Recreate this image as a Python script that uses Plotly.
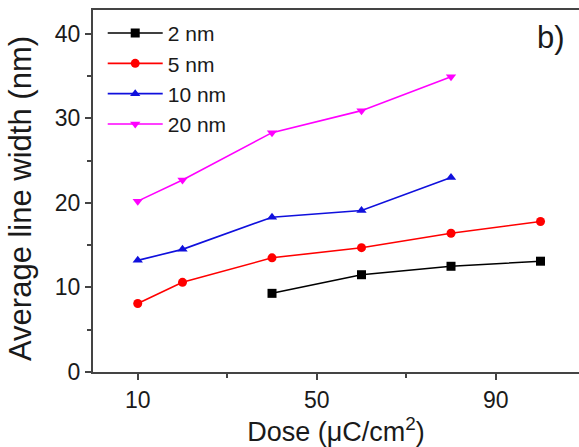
import plotly.graph_objects as go

w2_x = [40, 60, 80, 100]
w2_y = [9.3, 11.5, 12.5, 13.1]
w5_x = [10, 20, 40, 60, 80, 100]
w5_y = [8.1, 10.6, 13.5, 14.7, 16.4, 17.8]
w10_x = [10, 20, 40, 60, 80]
w10_y = [13.2, 14.5, 18.3, 19.1, 23.0]
w20_x = [10, 20, 40, 60, 80]
w20_y = [20.2, 22.7, 28.3, 30.9, 34.9]

series = [
    ("2 nm", w2_x, w2_y, "#000000", "square"),
    ("5 nm", w5_x, w5_y, "#ff0000", "circle"),
    ("10 nm", w10_x, w10_y, "#1010dd", "triangle-up"),
    ("20 nm", w20_x, w20_y, "#ff00ff", "triangle-down"),
]

fig = go.Figure()
for name, xs, ys, col, sym in series:
    fig.add_trace(go.Scatter(x=xs, y=ys, name=name, mode="lines+markers",
                             line=dict(color=col, width=1.6),
                             marker=dict(symbol=sym, size=9, color=col)))

font = "Arial, Liberation Sans, sans-serif"
fig.update_layout(
    width=579, height=447,
    margin=dict(l=93, r=0, t=10, b=75),
    paper_bgcolor="white", plot_bgcolor="white",
    font=dict(family=font, color="#1a1a1a", size=22),
    showlegend=True,
    legend=dict(x=0.02, y=0.992, xanchor="left", yanchor="top",
                font=dict(size=21), bgcolor="rgba(0,0,0,0)",
                itemwidth=55, tracegroupgap=0),
    xaxis=dict(range=[0, 108.6], tickmode="linear", tick0=10, dtick=40,
               ticks="outside", ticklen=6, tickwidth=2, tickcolor="#444",
               showline=True, linewidth=2, linecolor="#444", mirror=True,
               showgrid=False, zeroline=False, automargin=False,
               minor=dict(tickmode="linear", tick0=10, dtick=20, ticks="outside",
                          ticklen=4, tickwidth=2, tickcolor="#444"),
               title=dict(text="Dose (\u03bcC/cm<sup>2</sup>)", font=dict(size=27), standoff=4),
               tickfont=dict(size=23)),
    yaxis=dict(range=[0, 42.8], tickmode="linear", tick0=0, dtick=10,
               ticks="outside", ticklen=6, tickwidth=2, tickcolor="#444",
               showline=True, linewidth=2, linecolor="#444", mirror=False,
               showgrid=False, zeroline=False, automargin=False,
               minor=dict(tickmode="linear", tick0=0, dtick=5, ticks="outside",
                          ticklen=4, tickwidth=2, tickcolor="#444"),
               tickfont=dict(size=23)),
)
fig.add_annotation(x=-0.148, y=0.478, xref="paper", yref="paper",
                   text="Average line width (nm)", textangle=-90,
                   showarrow=False, font=dict(size=31),
                   xanchor="center", yanchor="middle")
fig.add_annotation(x=0.975, y=0.925, xref="paper", yref="paper", text="b)",
                   showarrow=False, font=dict(size=31), xanchor="right", yanchor="middle")
fig.write_html("out.html")
